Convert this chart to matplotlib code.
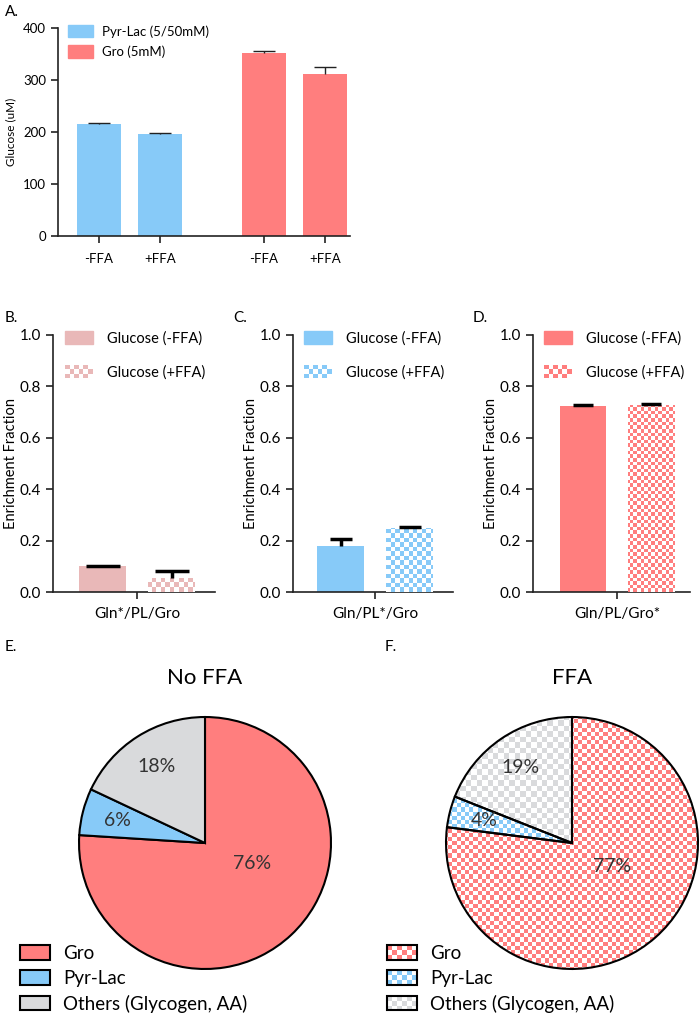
import numpy as np
import matplotlib
matplotlib.use("Agg")
import matplotlib.pyplot as plt
from matplotlib.patches import Rectangle
from matplotlib.legend_handler import HandlerBase

plt.rcParams['font.family'] = ['Lato', 'DejaVu Sans']

# ---- data ----
# panel A: glucose output (uM)
a_labels = ['-FFA', '+FFA', '-FFA', '+FFA']
a_values = [216, 196, 352, 312]
a_errors = [2, 2, 3, 13]
a_groups = ['Pyr-Lac (5/50mM)', 'Gro (5mM)']

# panels B-D: enrichment fraction, (-FFA, +FFA)
tracer_labels = ['Gln*/PL/Gro', 'Gln/PL*/Gro', 'Gln/PL/Gro*']
enrich_minus = [0.100, 0.180, 0.723]
enrich_plus = [0.055, 0.248, 0.727]
err_minus = [0.003, 0.025, 0.005]
err_plus = [0.025, 0.004, 0.004]
series_names = ['Glucose (-FFA)', 'Glucose (+FFA)']

# panels E-F: source contributions (%)
pie_names = ['Gro', 'Pyr-Lac', 'Others (Glycogen, AA)']
pie_noffa = [76, 6, 18]
pie_ffa = [77, 4, 19]

BLUE = '#87CAF8'
RED = '#FF7E7E'
PINK = '#E9B8B8'
GREY = '#D9DADC'


def checker_image(color, nx, ny):
    rgb = np.array(matplotlib.colors.to_rgb(color))
    ii, jj = np.meshgrid(np.arange(nx), np.arange(ny))
    mask = ((ii + jj) % 2 == 0)[..., None]
    return np.where(mask, rgb, np.ones(3))


def checker_fill(ax, patch, color, cell_px, zorder):
    bb = ax.get_window_extent()
    nx = max(1, int(round(bb.width / cell_px)))
    ny = max(1, int(round(bb.height / cell_px)))
    x0, x1 = ax.get_xlim()
    y0, y1 = ax.get_ylim()
    im = ax.imshow(checker_image(color, nx, ny), extent=(x0, x1, y0, y1),
                   origin='lower', aspect='auto', interpolation='nearest',
                   zorder=zorder)
    im.set_clip_path(patch)
    ax.set_xlim(x0, x1)
    ax.set_ylim(y0, y1)
    return im


def top_caps_only(bars):
    # errorbar caps: keep only the upper one
    caplines = bars.errorbar.lines[1]
    if len(caplines) > 1:
        caplines[0].set_visible(False)


class CheckerHandle(object):
    def __init__(self, color, edge=None):
        self.color = color
        self.edge = edge


class CheckerHandler(HandlerBase):
    def __init__(self, nx=6):
        super().__init__()
        self.nx = nx

    def create_artists(self, legend, orig_handle, xdescent, ydescent,
                       width, height, fontsize, trans):
        arts = []
        cw = width / self.nx
        ny = max(1, int(round(height / cw)))
        ch = height / ny
        for i in range(self.nx):
            for j in range(ny):
                c = orig_handle.color if (i + j) % 2 == 0 else 'white'
                arts.append(Rectangle((-xdescent + i * cw, -ydescent + j * ch), cw, ch,
                                      facecolor=c, edgecolor='none', transform=trans))
        if orig_handle.edge:
            arts.append(Rectangle((-xdescent, -ydescent), width, height,
                                  facecolor='none', edgecolor=orig_handle.edge,
                                  linewidth=1.5, transform=trans))
        return arts


W, H = 700, 1014
fig = plt.figure(figsize=(W / 100, H / 100), dpi=100)


def px_axes(left, top, right, bottom):
    return fig.add_axes([left / W, (H - bottom) / H, (right - left) / W, (bottom - top) / H])


def style_axes(ax, lw=1.2):
    ax.spines['top'].set_visible(False)
    ax.spines['right'].set_visible(False)
    for s in ('left', 'bottom'):
        ax.spines[s].set_linewidth(lw)
        ax.spines[s].set_color('#222222')
    ax.tick_params(direction='out', width=lw, color='#222222')


# ---- panel A ----
axA = px_axes(58, 28, 350, 236)
a_pos = [0, 1, 2.7, 3.7]
a_cols = [BLUE, BLUE, RED, RED]
barsA = axA.bar(a_pos, a_values, width=0.72, color=a_cols,
                yerr=[[0] * 4, a_errors], capsize=8,
                error_kw=dict(elinewidth=1, capthick=1, ecolor='#222222'))
top_caps_only(barsA)
axA.set_xlim(-0.67, 4.11)
axA.set_ylim(0, 400)
axA.set_yticks([0, 100, 200, 300, 400])
axA.set_xticks(a_pos)
axA.set_xticklabels(a_labels)
axA.tick_params(labelsize=9.5, length=5)
axA.tick_params(axis='x', pad=7)
axA.set_ylabel('Glucose (uM)', fontsize=8.5, labelpad=5)
style_axes(axA)
a_handles = [Rectangle((0, 0), 1, 1, color=BLUE), Rectangle((0, 0), 1, 1, color=RED)]
axA.legend(a_handles, a_groups, loc='upper left', bbox_to_anchor=(0.034, 1.015),
           frameon=False, fontsize=9.5, handlelength=1.9, handleheight=1.05,
           handletextpad=0.65, labelspacing=0.6, borderpad=0, borderaxespad=0)
fig.text(5 / W, 1 - 12 / H, 'A.', fontsize=11, va='center', ha='left')

# ---- panels B-D ----
bcd_boxes = [(53, 215, 137, 69, 0.68, 12), (293, 453, 375, 69, 0.68, 8),
             (533, 690, 617, 68, 0.69, 7)]
bcd_colors = [PINK, BLUE, RED]
bcd_cells = [4.5, 4.5, 3.6]
bcd_letters = ['B.', 'C.', 'D.']
bcd_letter_x = [5, 233, 473]

for k in range(3):
    left, right, tick_px, unit, bw, cap = bcd_boxes[k]
    ax = px_axes(left, 335, right, 592)
    col = bcd_colors[k]
    bars = ax.bar([-0.5, 0.5], [enrich_minus[k], enrich_plus[k]], width=bw,
                  color=[col, 'white'], zorder=2,
                  yerr=[[0, 0], [err_minus[k], err_plus[k]]], capsize=cap,
                  error_kw=dict(elinewidth=2.5, capthick=2.5, ecolor='black', zorder=5))
    top_caps_only(bars)
    ax.set_xlim((left - tick_px) / unit, (right - tick_px) / unit)
    ax.set_ylim(0, 1.0)
    checker_fill(ax, bars[1], col, bcd_cells[k], zorder=3)
    ax.set_yticks([0, 0.2, 0.4, 0.6, 0.8, 1.0])
    ax.set_yticklabels(['0.0', '0.2', '0.4', '0.6', '0.8', '1.0'])
    ax.set_xticks([0])
    ax.set_xticklabels([tracer_labels[k]])
    ax.tick_params(labelsize=11, length=5)
    ax.tick_params(axis='x', pad=6)
    ax.set_ylabel('Enrichment Fraction', fontsize=10.5, labelpad=1)
    style_axes(ax)
    handles = [Rectangle((0, 0), 1, 1, color=col), CheckerHandle(col)]
    ax.legend(handles, series_names, loc='upper left',
              bbox_to_anchor=((12 if k == 0 else 11) / (right - left), 1.015),
              frameon=False, fontsize=10.5, handlelength=1.9, handleheight=0.95,
              handletextpad=1.0, labelspacing=1.35, borderpad=0, borderaxespad=0,
              handler_map={CheckerHandle: CheckerHandler(6)})
    fig.text(bcd_letter_x[k] / W, 1 - 318 / H, bcd_letters[k], fontsize=11,
             va='center', ha='left')

# ---- panels E-F ----
pie_centers = [205, 572]
pie_data = [pie_noffa, pie_ffa]
pie_titles = ['No FFA', 'FFA']
pie_letters = ['E.', 'F.']
pie_letter_x = [5, 385]
gro_label_pos = [(0.37, -0.16), (0.32, -0.19)]
R = 126
cy = 843
pie_colors = [RED, BLUE, GREY]
pie_cells = [4.2, 4.2, 5.5]

for k in range(2):
    cx = pie_centers[k]
    ax = px_axes(cx - R - 2, cy - R - 2, cx + R + 2, cy + R + 2)
    checkered = (k == 1)
    wedges, texts, autotexts = ax.pie(
        pie_data[k], colors=pie_colors if not checkered else ['none'] * 3,
        startangle=90, counterclock=False, radius=1.0,
        autopct=lambda p: '%d%%' % round(p), pctdistance=0.72,
        wedgeprops=dict(edgecolor='black', linewidth=1.5, zorder=4),
        textprops=dict(fontsize=14, color='#333333'))
    ax.set_xlim(-1.016, 1.016)
    ax.set_ylim(-1.016, 1.016)
    ax.set_aspect('equal')
    ax.axis('off')
    for t in autotexts:
        t.set_zorder(6)
    autotexts[0].set_position(gro_label_pos[k])
    if checkered:
        for w, c, cell in zip(wedges, pie_colors, pie_cells):
            checker_fill(ax, w, c, cell, zorder=2)
    ax.set_title(pie_titles[k], fontsize=16, pad=22)
    if checkered:
        handles = [CheckerHandle(c, edge='black') for c in pie_colors]
        hmap = {CheckerHandle: CheckerHandler(6)}
    else:
        handles = [Rectangle((0, 0), 1, 1, facecolor=c, edgecolor='black', linewidth=1.5)
                   for c in pie_colors]
        hmap = None
    leg_x = [20, 387][k]
    fig.legend(handles, pie_names, loc='upper left',
               bbox_to_anchor=(leg_x / W, 1 - 945 / H), frameon=False,
               fontsize=13.5, handlelength=1.6, handleheight=0.8,
               handletextpad=0.7, labelspacing=0.42, borderpad=0, borderaxespad=0,
               handler_map=hmap)
    fig.text(pie_letter_x[k] / W, 1 - 647 / H, pie_letters[k], fontsize=11,
             va='center', ha='left')

fig.savefig('out.png', dpi=100)
